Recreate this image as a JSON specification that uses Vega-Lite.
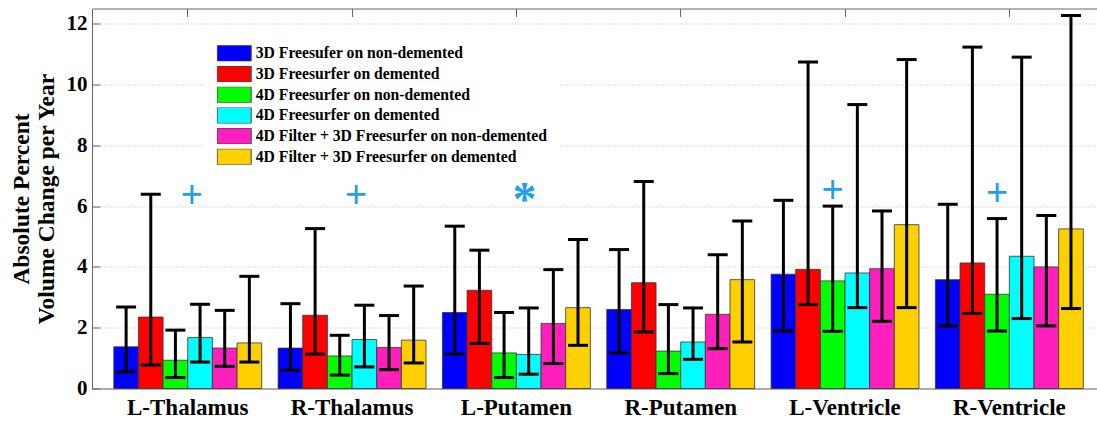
{
  "$schema": "https://vega.github.io/schema/vega-lite/v6.json",
  "width": 1005,
  "height": 380,
  "autosize": {"type": "none"},
  "padding": {"left": 92, "top": 8.5, "right": 0, "bottom": 33.5},
  "background": "white",
  "config": {"view": {"stroke": null}, "font": "Liberation Serif"},
  "datasets": {
    "bars": [
      {"region": "L-Thalamus", "method": "3D Freesufer on non-demented", "value": 1.37, "low": 0.55, "high": 2.68},
      {"region": "L-Thalamus", "method": "3D Freesurfer on demented", "value": 2.35, "low": 0.77, "high": 6.39},
      {"region": "L-Thalamus", "method": "4D Freesurfer on non-demented", "value": 0.93, "low": 0.36, "high": 1.92},
      {"region": "L-Thalamus", "method": "4D Freesurfer on demented", "value": 1.68, "low": 0.87, "high": 2.77},
      {"region": "L-Thalamus", "method": "4D Filter + 3D Freesurfer on non-demented", "value": 1.33, "low": 0.73, "high": 2.57},
      {"region": "L-Thalamus", "method": "4D Filter + 3D Freesurfer on demented", "value": 1.5, "low": 0.87, "high": 3.69},
      {"region": "R-Thalamus", "method": "3D Freesufer on non-demented", "value": 1.33, "low": 0.6, "high": 2.79},
      {"region": "R-Thalamus", "method": "3D Freesurfer on demented", "value": 2.41, "low": 1.13, "high": 5.26},
      {"region": "R-Thalamus", "method": "4D Freesurfer on non-demented", "value": 1.07, "low": 0.44, "high": 1.75},
      {"region": "R-Thalamus", "method": "4D Freesurfer on demented", "value": 1.61, "low": 0.71, "high": 2.74},
      {"region": "R-Thalamus", "method": "4D Filter + 3D Freesurfer on non-demented", "value": 1.35, "low": 0.62, "high": 2.4},
      {"region": "R-Thalamus", "method": "4D Filter + 3D Freesurfer on demented", "value": 1.59, "low": 0.84, "high": 3.37},
      {"region": "L-Putamen", "method": "3D Freesufer on non-demented", "value": 2.5, "low": 1.13, "high": 5.34},
      {"region": "L-Putamen", "method": "3D Freesurfer on demented", "value": 3.23, "low": 1.48, "high": 4.55},
      {"region": "L-Putamen", "method": "4D Freesurfer on non-demented", "value": 1.17, "low": 0.36, "high": 2.5},
      {"region": "L-Putamen", "method": "4D Freesurfer on demented", "value": 1.12, "low": 0.47, "high": 2.65},
      {"region": "L-Putamen", "method": "4D Filter + 3D Freesurfer on non-demented", "value": 2.14, "low": 0.82, "high": 3.91},
      {"region": "L-Putamen", "method": "4D Filter + 3D Freesurfer on demented", "value": 2.66, "low": 1.42, "high": 4.9},
      {"region": "R-Putamen", "method": "3D Freesufer on non-demented", "value": 2.6, "low": 1.17, "high": 4.57},
      {"region": "R-Putamen", "method": "3D Freesurfer on demented", "value": 3.48, "low": 1.86, "high": 6.81},
      {"region": "R-Putamen", "method": "4D Freesurfer on non-demented", "value": 1.23, "low": 0.49, "high": 2.76},
      {"region": "R-Putamen", "method": "4D Freesurfer on demented", "value": 1.53, "low": 0.96, "high": 2.65},
      {"region": "R-Putamen", "method": "4D Filter + 3D Freesurfer on non-demented", "value": 2.44, "low": 1.31, "high": 4.4},
      {"region": "R-Putamen", "method": "4D Filter + 3D Freesurfer on demented", "value": 3.58, "low": 1.53, "high": 5.51},
      {"region": "L-Ventricle", "method": "3D Freesufer on non-demented", "value": 3.76, "low": 1.89, "high": 6.19},
      {"region": "L-Ventricle", "method": "3D Freesurfer on demented", "value": 3.92, "low": 2.76, "high": 10.74},
      {"region": "L-Ventricle", "method": "4D Freesurfer on non-demented", "value": 3.54, "low": 1.88, "high": 6.0},
      {"region": "L-Ventricle", "method": "4D Freesurfer on demented", "value": 3.8, "low": 2.66, "high": 9.34},
      {"region": "L-Ventricle", "method": "4D Filter + 3D Freesurfer on non-demented", "value": 3.94, "low": 2.21, "high": 5.84},
      {"region": "L-Ventricle", "method": "4D Filter + 3D Freesurfer on demented", "value": 5.39, "low": 2.66, "high": 10.82},
      {"region": "R-Ventricle", "method": "3D Freesufer on non-demented", "value": 3.58, "low": 2.06, "high": 6.06},
      {"region": "R-Ventricle", "method": "3D Freesurfer on demented", "value": 4.13, "low": 2.47, "high": 11.23},
      {"region": "R-Ventricle", "method": "4D Freesurfer on non-demented", "value": 3.1, "low": 1.89, "high": 5.59},
      {"region": "R-Ventricle", "method": "4D Freesurfer on demented", "value": 4.35, "low": 2.3, "high": 10.9},
      {"region": "R-Ventricle", "method": "4D Filter + 3D Freesurfer on non-demented", "value": 4.0, "low": 2.06, "high": 5.69},
      {"region": "R-Ventricle", "method": "4D Filter + 3D Freesurfer on demented", "value": 5.25, "low": 2.63, "high": 12.27}
    ],
    "marks": [
      {"region": "L-Thalamus", "marker": "+", "pos": 6.39},
      {"region": "R-Thalamus", "marker": "+", "pos": 6.39},
      {"region": "L-Putamen", "marker": "*", "pos": 6.5},
      {"region": "L-Ventricle", "marker": "+", "pos": 6.55, "method": "4D Freesurfer on non-demented"},
      {"region": "R-Ventricle", "marker": "+", "pos": 6.45, "method": "4D Freesurfer on non-demented"}
    ]
  },
  "resolve": {"axis": {"x": "independent", "y": "independent"}},
  "layer": [
    {
      "data": {"name": "bars"},
      "mark": {"type": "bar", "stroke": "#333333", "strokeWidth": 0.8},
      "encoding": {
        "x": {
          "field": "region", "type": "nominal",
          "scale": {"domain": ["L-Thalamus", "R-Thalamus", "L-Putamen", "R-Putamen", "L-Ventricle", "R-Ventricle"], "paddingInner": 0.1, "paddingOuter": 0.108, "align": 0.614},
          "axis": {"orient": "bottom", "title": null, "labelAngle": 0, "labelFont": "Liberation Serif", "labelFontWeight": "bold", "labelFontSize": 23, "labelColor": "black", "labelPadding": 8, "ticks": false, "domain": true, "domainColor": "#666666", "grid": false}
        },
        "xOffset": {
          "field": "method", "type": "nominal",
          "scale": {"domain": ["3D Freesufer on non-demented", "3D Freesurfer on demented", "4D Freesurfer on non-demented", "4D Freesurfer on demented", "4D Filter + 3D Freesurfer on non-demented", "4D Filter + 3D Freesurfer on demented"], "paddingInner": 0, "paddingOuter": 0}
        },
        "y": {
          "field": "value", "type": "quantitative",
          "scale": {"domain": [0, 12.5], "nice": false, "zero": true},
          "axis": {"orient": "left", "values": [0, 2, 4, 6, 8, 10, 12], "title": ["Absolute Percent", "Volume Change per Year"], "titleFont": "Liberation Serif", "titleFontWeight": "bold", "titleFontSize": 23.5, "titleLineHeight": 25, "titleColor": "black", "titlePadding": 8, "labelFont": "Liberation Serif", "labelFontWeight": "bold", "labelFontSize": 21, "labelColor": "black", "labelPadding": 13, "ticks": true, "tickSize": -8, "tickColor": "#666666", "domain": true, "domainColor": "#666666", "grid": true, "gridDash": [1, 2], "gridColor": "#bbbbbb", "gridWidth": 1}
        },
        "color": {
          "field": "method", "type": "nominal",
          "scale": {"domain": ["3D Freesufer on non-demented", "3D Freesurfer on demented", "4D Freesurfer on non-demented", "4D Freesurfer on demented", "4D Filter + 3D Freesurfer on non-demented", "4D Filter + 3D Freesurfer on demented"], "range": ["#0000ff", "#ff0000", "#00ff00", "#00ffff", "#ff1fbd", "#ffd000"]},
          "legend": {"orient": "none", "legendX": 112.7, "legendY": 24.8, "title": null, "direction": "vertical", "symbolType": "M-1,-0.47H1V0.47H-1Z", "symbolSize": 1156, "symbolStrokeColor": "#444444", "symbolStrokeWidth": 1, "symbolOpacity": 1, "labelFont": "Liberation Serif", "labelFontWeight": "bold", "labelFontSize": 15.7, "labelColor": "black", "labelLimit": 600, "labelOffset": 4, "clipHeight": 16, "rowPadding": 4.7, "padding": 12, "fillColor": "white", "strokeColor": null}
        }
      }
    },
    {
      "data": {"name": "bars"},
      "mark": {"type": "rule", "strokeWidth": 3, "color": "black"},
      "encoding": {
        "x": {"field": "region", "type": "nominal", "axis": {"orient": "top", "title": null, "labels": false, "ticks": true, "tickSize": -8, "tickColor": "#666666", "domain": true, "domainColor": "#666666", "grid": false}},
        "xOffset": {"field": "method", "type": "nominal"},
        "y": {"field": "low", "type": "quantitative", "axis": null},
        "y2": {"field": "high"}
      }
    },
    {
      "data": {"name": "bars"},
      "mark": {"type": "tick", "thickness": 3, "size": 20, "color": "black", "opacity": 1},
      "encoding": {
        "x": {"field": "region", "type": "nominal", "axis": null},
        "xOffset": {"field": "method", "type": "nominal"},
        "y": {"field": "high", "type": "quantitative", "axis": null}
      }
    },
    {
      "data": {"name": "bars"},
      "mark": {"type": "tick", "thickness": 3, "size": 20, "color": "black", "opacity": 1},
      "encoding": {
        "x": {"field": "region", "type": "nominal", "axis": null},
        "xOffset": {"field": "method", "type": "nominal"},
        "y": {"field": "low", "type": "quantitative", "axis": null}
      }
    },
    {
      "data": {"name": "marks"},
      "transform": [{"filter": "datum.marker == '+' && !isValid(datum.method)"}],
      "mark": {"type": "text", "font": "Liberation Sans", "fontSize": 38, "baseline": "alphabetic", "align": "center", "dx": 4, "dy": 13, "color": "#1fa0e8"},
      "encoding": {
        "x": {"field": "region", "type": "nominal", "axis": null},
        "y": {"field": "pos", "type": "quantitative", "axis": null},
        "text": {"field": "marker"}
      }
    },
    {
      "data": {"name": "marks"},
      "transform": [{"filter": "datum.marker == '*'"}],
      "mark": {"type": "text", "font": "Liberation Serif", "fontWeight": "bold", "fontSize": 48, "baseline": "alphabetic", "align": "center", "dx": 8, "dy": 24, "color": "#1fa0e8"},
      "encoding": {
        "x": {"field": "region", "type": "nominal", "axis": null},
        "y": {"field": "pos", "type": "quantitative", "axis": null},
        "text": {"field": "marker"}
      }
    },
    {
      "data": {"name": "marks"},
      "transform": [{"filter": "isValid(datum.method)"}],
      "mark": {"type": "text", "font": "Liberation Sans", "fontSize": 38, "baseline": "alphabetic", "align": "center", "dy": 13, "color": "#1fa0e8"},
      "encoding": {
        "x": {"field": "region", "type": "nominal", "axis": null},
        "xOffset": {"field": "method", "type": "nominal"},
        "y": {"field": "pos", "type": "quantitative", "axis": null},
        "text": {"field": "marker"}
      }
    }
  ]
}
